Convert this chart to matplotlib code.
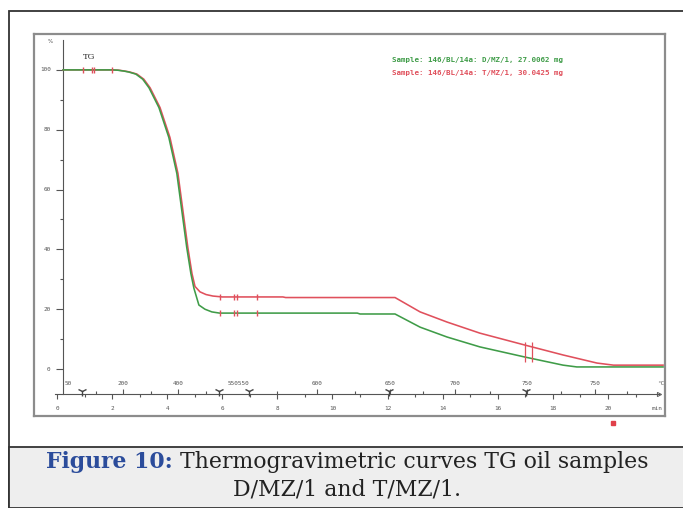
import matplotlib
matplotlib.use("Agg")
import matplotlib.pyplot as plt
from matplotlib.patches import Rectangle

# TG curves, time in min, residual mass in %
time_green = [0.22, 2.00, 2.20, 2.43, 2.60, 2.86, 3.11, 3.34, 3.70, 4.06, 4.35, 4.53,
              4.71, 4.86, 4.97, 5.15, 5.37, 5.62, 5.90, 10.9, 11.0, 12.27, 13.18,
              14.16, 15.35, 16.99, 18.37, 18.87, 22.0]
mass_green = [100, 100, 99.9, 99.6, 99.3, 98.6, 96.9, 94.0, 87.4, 77.4, 65.4, 53.0,
              40.6, 31.9, 27.0, 21.4, 20.0, 19.1, 18.7, 18.7, 18.4, 18.4, 14.0,
              10.7, 7.4, 4.0, 1.3, 0.7, 0.7]

time_red = [0.22, 2.00, 2.24, 2.47, 2.64, 2.90, 3.15, 3.38, 3.74, 4.10, 4.39, 4.57,
            4.75, 4.90, 5.01, 5.19, 5.41, 5.66, 6.00, 8.20, 8.30, 12.27, 13.18,
            14.16, 15.35, 16.99, 18.37, 19.60, 20.20, 22.0]
mass_red = [100, 100, 99.9, 99.6, 99.3, 98.6, 96.9, 94.0, 87.4, 77.4, 65.4, 53.0,
            40.6, 31.9, 27.6, 25.8, 24.9, 24.4, 24.1, 24.1, 23.9, 23.9, 19.1,
            15.7, 12.0, 8.0, 4.7, 2.0, 1.3, 1.3]

sample_green = "Sample: 146/BL/14a: D/MZ/1, 27.0062 mg"
sample_red = "Sample: 146/BL/14a: T/MZ/1, 30.0425 mg"

# evaluation marks on the curves
marks_top_t = [0.94, 1.27, 1.34, 2.00]
marks_mid_t = [5.92, 6.42, 6.53, 7.26]
marks_low_t = [16.99, 17.24]
marks_low_span = (2.3, 9.0)

# axis annotations
y_major = [0, 20, 40, 60, 80, 100]
y_minor = [10, 30, 50, 70, 90]
time_major = [0, 2, 4, 6, 8, 10, 12, 14, 16, 18, 20]
time_minor = [1, 3, 5, 7, 9, 11, 13, 15, 17, 19, 21]
temp_labels = ["50", "200", "400", "550550", "600", "650", "700", "750", "750"]
temp_label_t = [0.40, 2.40, 4.39, 6.60, 9.44, 12.09, 14.45, 17.06, 19.53]
temp_tick_t = [2.40, 4.39, 9.44, 12.09, 14.45, 17.06, 19.53]
temp_minor_t = [1.40, 3.40, 5.40, 8.00, 10.8, 13.3, 15.7, 18.3, 20.7]
step_t = [0.91, 5.88, 6.97, 12.05, 17.02]

GREEN = "#3f9c48"
RED = "#e0505c"
GREY = "#555555"

fig = plt.figure(figsize=(6.83, 5.08), dpi=100)
W, H = 683, 508

# page frame and caption band
fig.patches.append(Rectangle((9 / W, 0), 1, 1 - 11 / H, transform=fig.transFigure,
                             fill=False, ec="#333333", lw=1.3))
fig.patches.append(Rectangle((9 / W, 0), 1, (H - 447) / H, transform=fig.transFigure,
                             fc="#eeeeee", ec="#333333", lw=1.3))

ax = fig.add_axes([34 / W, (H - 416) / H, 631 / W, 382 / H])
ax.set_xlim(-0.835, 22.07)
ax.set_ylim(-15.7, 112.0)
ax.set_xticks([])
ax.set_yticks([])
for s in ax.spines.values():
    s.set_color("#8c8c8c")
    s.set_linewidth(1.6)

X_AX = -8.4   # level of the time axis
Y_AX = 0.22   # position of the mass axis

ax.plot([Y_AX, Y_AX], [X_AX, 110], color=GREY, lw=0.8)
ax.plot([-0.07, 21.85], [X_AX, X_AX], color=GREY, lw=0.8)
ax.plot([21.85], [X_AX], marker=">", ms=3, color=GREY, mfc="none", mew=0.7)
ax.plot([Y_AX] * len(y_major), y_major, ls="none", marker=0, ms=5,
        color=GREY, mew=0.8)
ax.plot([Y_AX] * len(y_minor), y_minor, ls="none", marker=0, ms=2.5, color=GREY, mew=0.8)
for v in y_major:
    ax.text(Y_AX - 0.45, v, str(v), ha="right", va="center", fontsize=4.3,
            family="DejaVu Sans Mono", color=GREY)
ax.text(-0.15, 109.5, "%", ha="right", va="center", fontsize=4, color=GREY)

ax.plot(time_major, [X_AX] * len(time_major), ls="none", marker=3, ms=3.5,
        color=GREY, mew=0.8)
ax.plot(time_minor, [X_AX] * len(time_minor), ls="none", marker=3, ms=2,
        color=GREY, mew=0.8)
ax.plot(temp_tick_t, [X_AX] * len(temp_tick_t), ls="none", marker=2, ms=3.5,
        color=GREY, mew=0.8)
ax.plot(temp_minor_t, [X_AX] * len(temp_minor_t), ls="none", marker=2, ms=2,
        color=GREY, mew=0.8)
ax.plot(step_t, [X_AX + 1.2] * len(step_t), ls="none", marker="1", ms=6.5,
        color="#444444", mew=1.0)
for t in time_major:
    ax.text(t, -13.1, str(t), ha="center", va="center", fontsize=4.3,
            family="DejaVu Sans Mono", color=GREY)
ax.text(21.78, -13.1, "min", ha="center", va="center", fontsize=4.3,
        family="DejaVu Sans Mono", color=GREY)
for lab, t in zip(temp_labels, temp_label_t):
    ax.text(t, -4.7, lab, ha="center", va="center", fontsize=4.3,
            family="DejaVu Sans Mono", color=GREY)
ax.text(21.9, -4.7, "°C", ha="center", va="center", fontsize=4.3,
        family="DejaVu Sans Mono", color=GREY)

# curves
ax.plot(time_red, mass_red, color=RED, lw=1.15, solid_joinstyle="round")
ax.plot(time_green, mass_green, color=GREEN, lw=1.15, solid_joinstyle="round")

ax.plot(marks_top_t, [100] * len(marks_top_t), ls="none", marker="|", ms=5,
        color=RED, mew=1.0)
ax.plot(marks_mid_t, [24.1] * len(marks_mid_t), ls="none", marker="|", ms=5,
        color=RED, mew=1.0)
ax.plot(marks_mid_t, [18.7] * len(marks_mid_t), ls="none", marker="|", ms=5,
        color=RED, mew=1.0)
ax.vlines(marks_low_t, *marks_low_span, color=RED, lw=0.9)
ax.plot([20.18], [-18.1], marker="s", ms=2.5, color="#e0404a", clip_on=False)

ax.text(0.94, 104.3, "TG", fontsize=6, family="DejaVu Serif", color="#333333",
        va="center")
ax.text(12.16, 103.3, sample_green, fontsize=5.4, family="DejaVu Sans Mono",
        color=GREEN, va="center", weight="bold")
ax.text(12.16, 99.0, sample_red, fontsize=5.4, family="DejaVu Sans Mono",
        color=RED, va="center", weight="bold")

# caption
cap_size = 15.8
renderer = fig.canvas.get_renderer()
head = fig.text(0, 0, "Figure 10:", fontsize=cap_size, family="DejaVu Serif",
                weight="bold", color="#2b4c9b")
rest = fig.text(0, 0, " Thermogravimetric curves TG oil samples", fontsize=cap_size,
                family="DejaVu Serif", color="#222222")
w_head = head.get_window_extent(renderer).width
w_rest = rest.get_window_extent(renderer).width
x0 = 347 - (w_head + w_rest) / 2
y1 = 1 - 462 / H
head.set_position((x0 / W, y1))
head.set_va("center")
rest.set_position(((x0 + w_head) / W, y1))
rest.set_va("center")
fig.text(347 / W, 1 - 490 / H, "D/MZ/1 and T/MZ/1.", fontsize=cap_size,
         family="DejaVu Serif", color="#222222", ha="center", va="center")

fig.savefig("out.png", dpi=100)
